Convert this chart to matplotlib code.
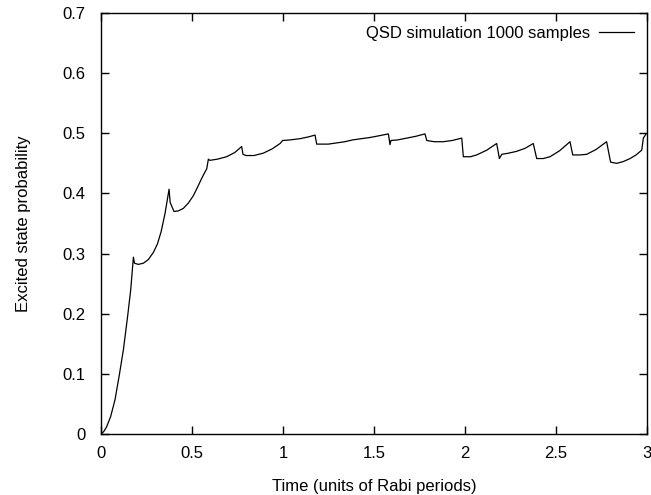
import matplotlib
matplotlib.use("Agg")
import matplotlib.pyplot as plt

plt.rcParams['font.family'] = ['Liberation Sans', 'DejaVu Sans']

# Data
time = [0.000, 0.015, 0.031, 0.053, 0.077, 0.100, 0.123, 0.146, 0.163, 0.178,
        0.184, 0.205, 0.233, 0.260, 0.288, 0.310, 0.330, 0.352, 0.374,
        0.380, 0.401, 0.425, 0.452, 0.480, 0.507, 0.530, 0.550, 0.565, 0.581, 0.590,
        0.598, 0.640, 0.690, 0.735, 0.773,
        0.780, 0.797, 0.840, 0.892, 0.940, 0.984, 0.998,
        1.040, 1.093, 1.140, 1.176,
        1.185, 1.203, 1.249, 1.295, 1.340, 1.383, 1.430, 1.478, 1.530, 1.579,
        1.588, 1.593, 1.630, 1.680, 1.730, 1.780,
        1.790, 1.830, 1.881, 1.930, 1.982,
        1.991, 2.030, 2.064, 2.120, 2.174,
        2.189, 2.202, 2.240, 2.284, 2.330, 2.375,
        2.394, 2.430, 2.467, 2.520, 2.577,
        2.592, 2.630, 2.668, 2.720, 2.778,
        2.800, 2.833, 2.870, 2.907, 2.940, 2.971, 2.980, 2.995]
prob = [0.000, 0.004, 0.012, 0.029, 0.057, 0.097, 0.140, 0.195, 0.239, 0.294,
        0.284, 0.282, 0.284, 0.290, 0.302, 0.316, 0.336, 0.367, 0.407,
        0.385, 0.370, 0.371, 0.375, 0.384, 0.396, 0.410, 0.423, 0.432, 0.441, 0.457,
        0.455, 0.457, 0.461, 0.468, 0.478,
        0.465, 0.463, 0.463, 0.467, 0.474, 0.483, 0.488,
        0.489, 0.491, 0.494, 0.497,
        0.482, 0.482, 0.482, 0.484, 0.486, 0.489, 0.491, 0.493, 0.496, 0.499,
        0.481, 0.488, 0.489, 0.492, 0.495, 0.499,
        0.488, 0.486, 0.486, 0.488, 0.492,
        0.461, 0.461, 0.464, 0.472, 0.483,
        0.458, 0.465, 0.467, 0.470, 0.475, 0.483,
        0.458, 0.458, 0.461, 0.471, 0.486,
        0.464, 0.464, 0.465, 0.473, 0.486,
        0.452, 0.450, 0.453, 0.458, 0.464, 0.472, 0.492, 0.499]

x_ticks = [0, 0.5, 1, 1.5, 2, 2.5, 3]
x_tick_labels = ["0", "0.5", "1", "1.5", "2", "2.5", "3"]
y_ticks = [0, 0.1, 0.2, 0.3, 0.4, 0.5, 0.6, 0.7]
y_tick_labels = ["0", "0.1", "0.2", "0.3", "0.4", "0.5", "0.6", "0.7"]

fig = plt.figure(figsize=(6.51, 4.95), dpi=100)
ax = fig.add_axes([101 / 651, 1 - 434 / 495, 546 / 651, 421 / 495])

ax.plot(time, prob, color='black', lw=0.9, label='QSD simulation 1000 samples')

ax.set_xlim(0, 3)
ax.set_ylim(0, 0.7)
ax.set_xticks(x_ticks)
ax.set_xticklabels(x_tick_labels)
ax.set_yticks(y_ticks)
ax.set_yticklabels(y_tick_labels)
ax.tick_params(direction='in', length=6, width=1, top=True, right=True,
               labelsize=12)
ax.tick_params(axis='x', pad=8.5)
ax.tick_params(axis='y', pad=11)
for s in ax.spines.values():
    s.set_linewidth(1.0)

ax.set_xlabel('Time (units of Rabi periods)', fontsize=12, labelpad=13)
ax.set_ylabel('Excited state probability', fontsize=12, labelpad=23)

leg = ax.legend(loc='upper right', frameon=False, markerfirst=False,
                fontsize=12, handlelength=2.1, borderaxespad=0.4,
                handletextpad=0.5)

fig.savefig('out.png', dpi=100)
